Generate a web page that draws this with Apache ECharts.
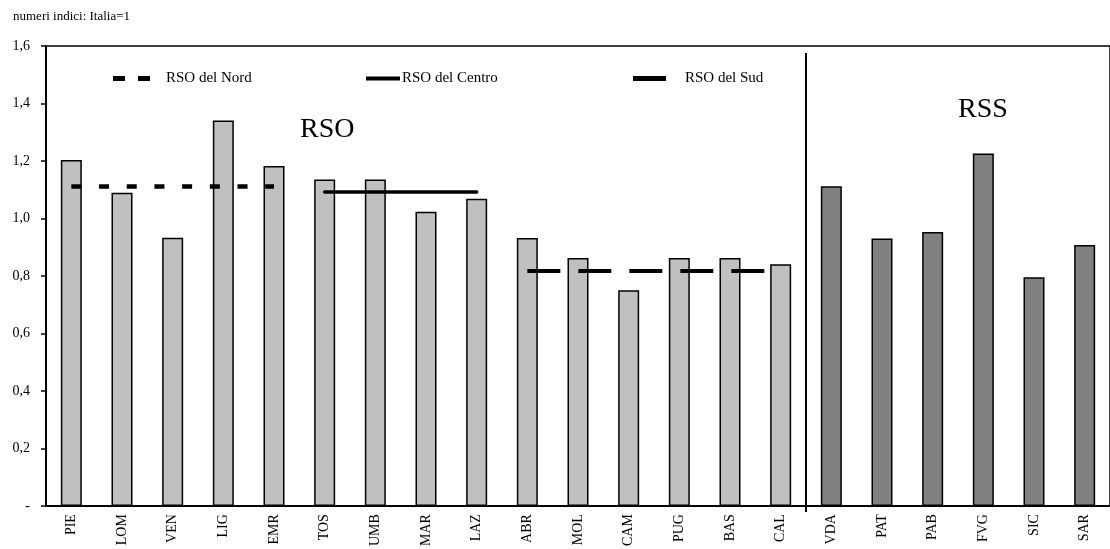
<!DOCTYPE html>
<html>
<head>
<meta charset="utf-8">
<script src="https://cdn.jsdelivr.net/npm/echarts@6/dist/echarts.min.js"></script>
<style>
html,body{margin:0;padding:0;background:#fff;}
#chart{width:1110px;height:549px;}
</style>
</head>
<body>
<div id="chart"></div>
<script>
const categories = ['PIE','LOM','VEN','LIG','EMR','TOS','UMB','MAR','LAZ','ABR','MOL','CAM','PUG','BAS','CAL','VDA','PAT','PAB','FVG','SIC','SAR'];
const values = [1.204,1.090,0.933,1.341,1.183,1.136,1.136,1.024,1.069,0.932,0.863,0.751,0.863,0.863,0.841,1.112,0.931,0.953,1.226,0.796,0.908];
const groups = ['RSO','RSO','RSO','RSO','RSO','RSO','RSO','RSO','RSO','RSO','RSO','RSO','RSO','RSO','RSO','RSS','RSS','RSS','RSS','RSS','RSS'];
const nord = [1.111,1.111,1.111,1.111,1.111,null,null,null,null,null,null,null,null,null,null,null,null,null,null,null,null];
const centro = [null,null,null,null,null,1.092,1.092,1.092,1.092,null,null,null,null,null,null,null,null,null,null,null,null];
const sud = [null,null,null,null,null,null,null,null,null,0.818,0.818,0.818,0.818,0.818,0.818,null,null,null,null,null,null];

const FONT = '"Liberation Serif","Times New Roman",serif';
const groupColor = {RSO:'#c0c0c0', RSS:'#808080'};

const chart = echarts.init(document.getElementById('chart'), null, {renderer:'canvas'});
chart.setOption({
  animation:false,
  backgroundColor:'#fff',
  textStyle:{fontFamily:FONT,color:'#000'},
  title:{text:'numeri indici: Italia=1',left:8,top:5,textStyle:{fontFamily:FONT,fontSize:13,fontWeight:'normal',color:'#000'}},
  grid:{left:46,top:46,bottom:41,right:-11,show:true,borderColor:'#000',borderWidth:1.5,backgroundColor:'transparent'},
  legend:[
    {data:[{name:'RSO del Nord',icon:'path://M0,0h12v5h-12zM25,0h12v5h-12z'}],left:113,top:71,padding:0,itemWidth:37,itemHeight:5,
     textStyle:{fontFamily:FONT,fontSize:15,color:'#000',padding:[0,0,0,11]}},
    {data:[{name:'RSO del Centro',icon:'rect'}],left:366,top:71,padding:0,itemWidth:34,itemHeight:4,
     textStyle:{fontFamily:FONT,fontSize:15,color:'#000',padding:[0,0,0,-3]}},
    {data:[{name:'RSO del Sud',icon:'rect'}],left:633,top:71,padding:0,itemWidth:33,itemHeight:5,
     textStyle:{fontFamily:FONT,fontSize:15,color:'#000',padding:[0,0,0,14]}}
  ],
  xAxis:{type:'category',data:categories,boundaryGap:true,
    axisLine:{lineStyle:{color:'#000',width:2}},
    axisTick:{show:false},
    axisLabel:{rotate:90,margin:8,fontFamily:FONT,fontSize:14,color:'#000',interval:0}},
  yAxis:{type:'value',min:0,max:1.6,interval:0.2,
    axisLine:{show:true,lineStyle:{color:'#000',width:2}},
    axisTick:{show:true,length:5,lineStyle:{color:'#000',width:1.5}},
    splitLine:{show:false},
    axisLabel:{margin:16,fontFamily:FONT,fontSize:14,color:'#000',
      formatter:v=> v===0 ? '-' : v.toFixed(1).replace('.',',')}},
  series:[
    {type:'bar',name:'valori',barWidth:21,z:2,
     data:values.map((v,i)=>({value:v,itemStyle:{color:groupColor[groups[i]],borderColor:'#000',borderWidth:1.5}}))},
    {type:'line',name:'RSO del Nord',data:nord,symbol:'none',z:5,
     lineStyle:{color:'#000',width:4.5,type:[10,17.7],cap:'butt'},itemStyle:{color:'#000'}},
    {type:'line',name:'RSO del Centro',data:centro,symbol:'none',z:5,
     lineStyle:{color:'#000',width:3.5,type:'solid',cap:'round'},itemStyle:{color:'#000'}},
    {type:'line',name:'RSO del Sud',data:sud,symbol:'none',z:5,
     lineStyle:{color:'#000',width:4,type:[33,18],cap:'butt'},itemStyle:{color:'#000'}}
  ],
  graphic:[
    {type:'line',shape:{x1:806,y1:53,x2:806,y2:512},style:{stroke:'#000',lineWidth:2},z:10},
    {type:'text',left:300,top:116,style:{text:'RSO',font:'28px '+FONT,fill:'#000'},z:10},
    {type:'text',left:958,top:96,style:{text:'RSS',font:'28px '+FONT,fill:'#000'},z:10}
  ]
});
</script>
</body>
</html>
